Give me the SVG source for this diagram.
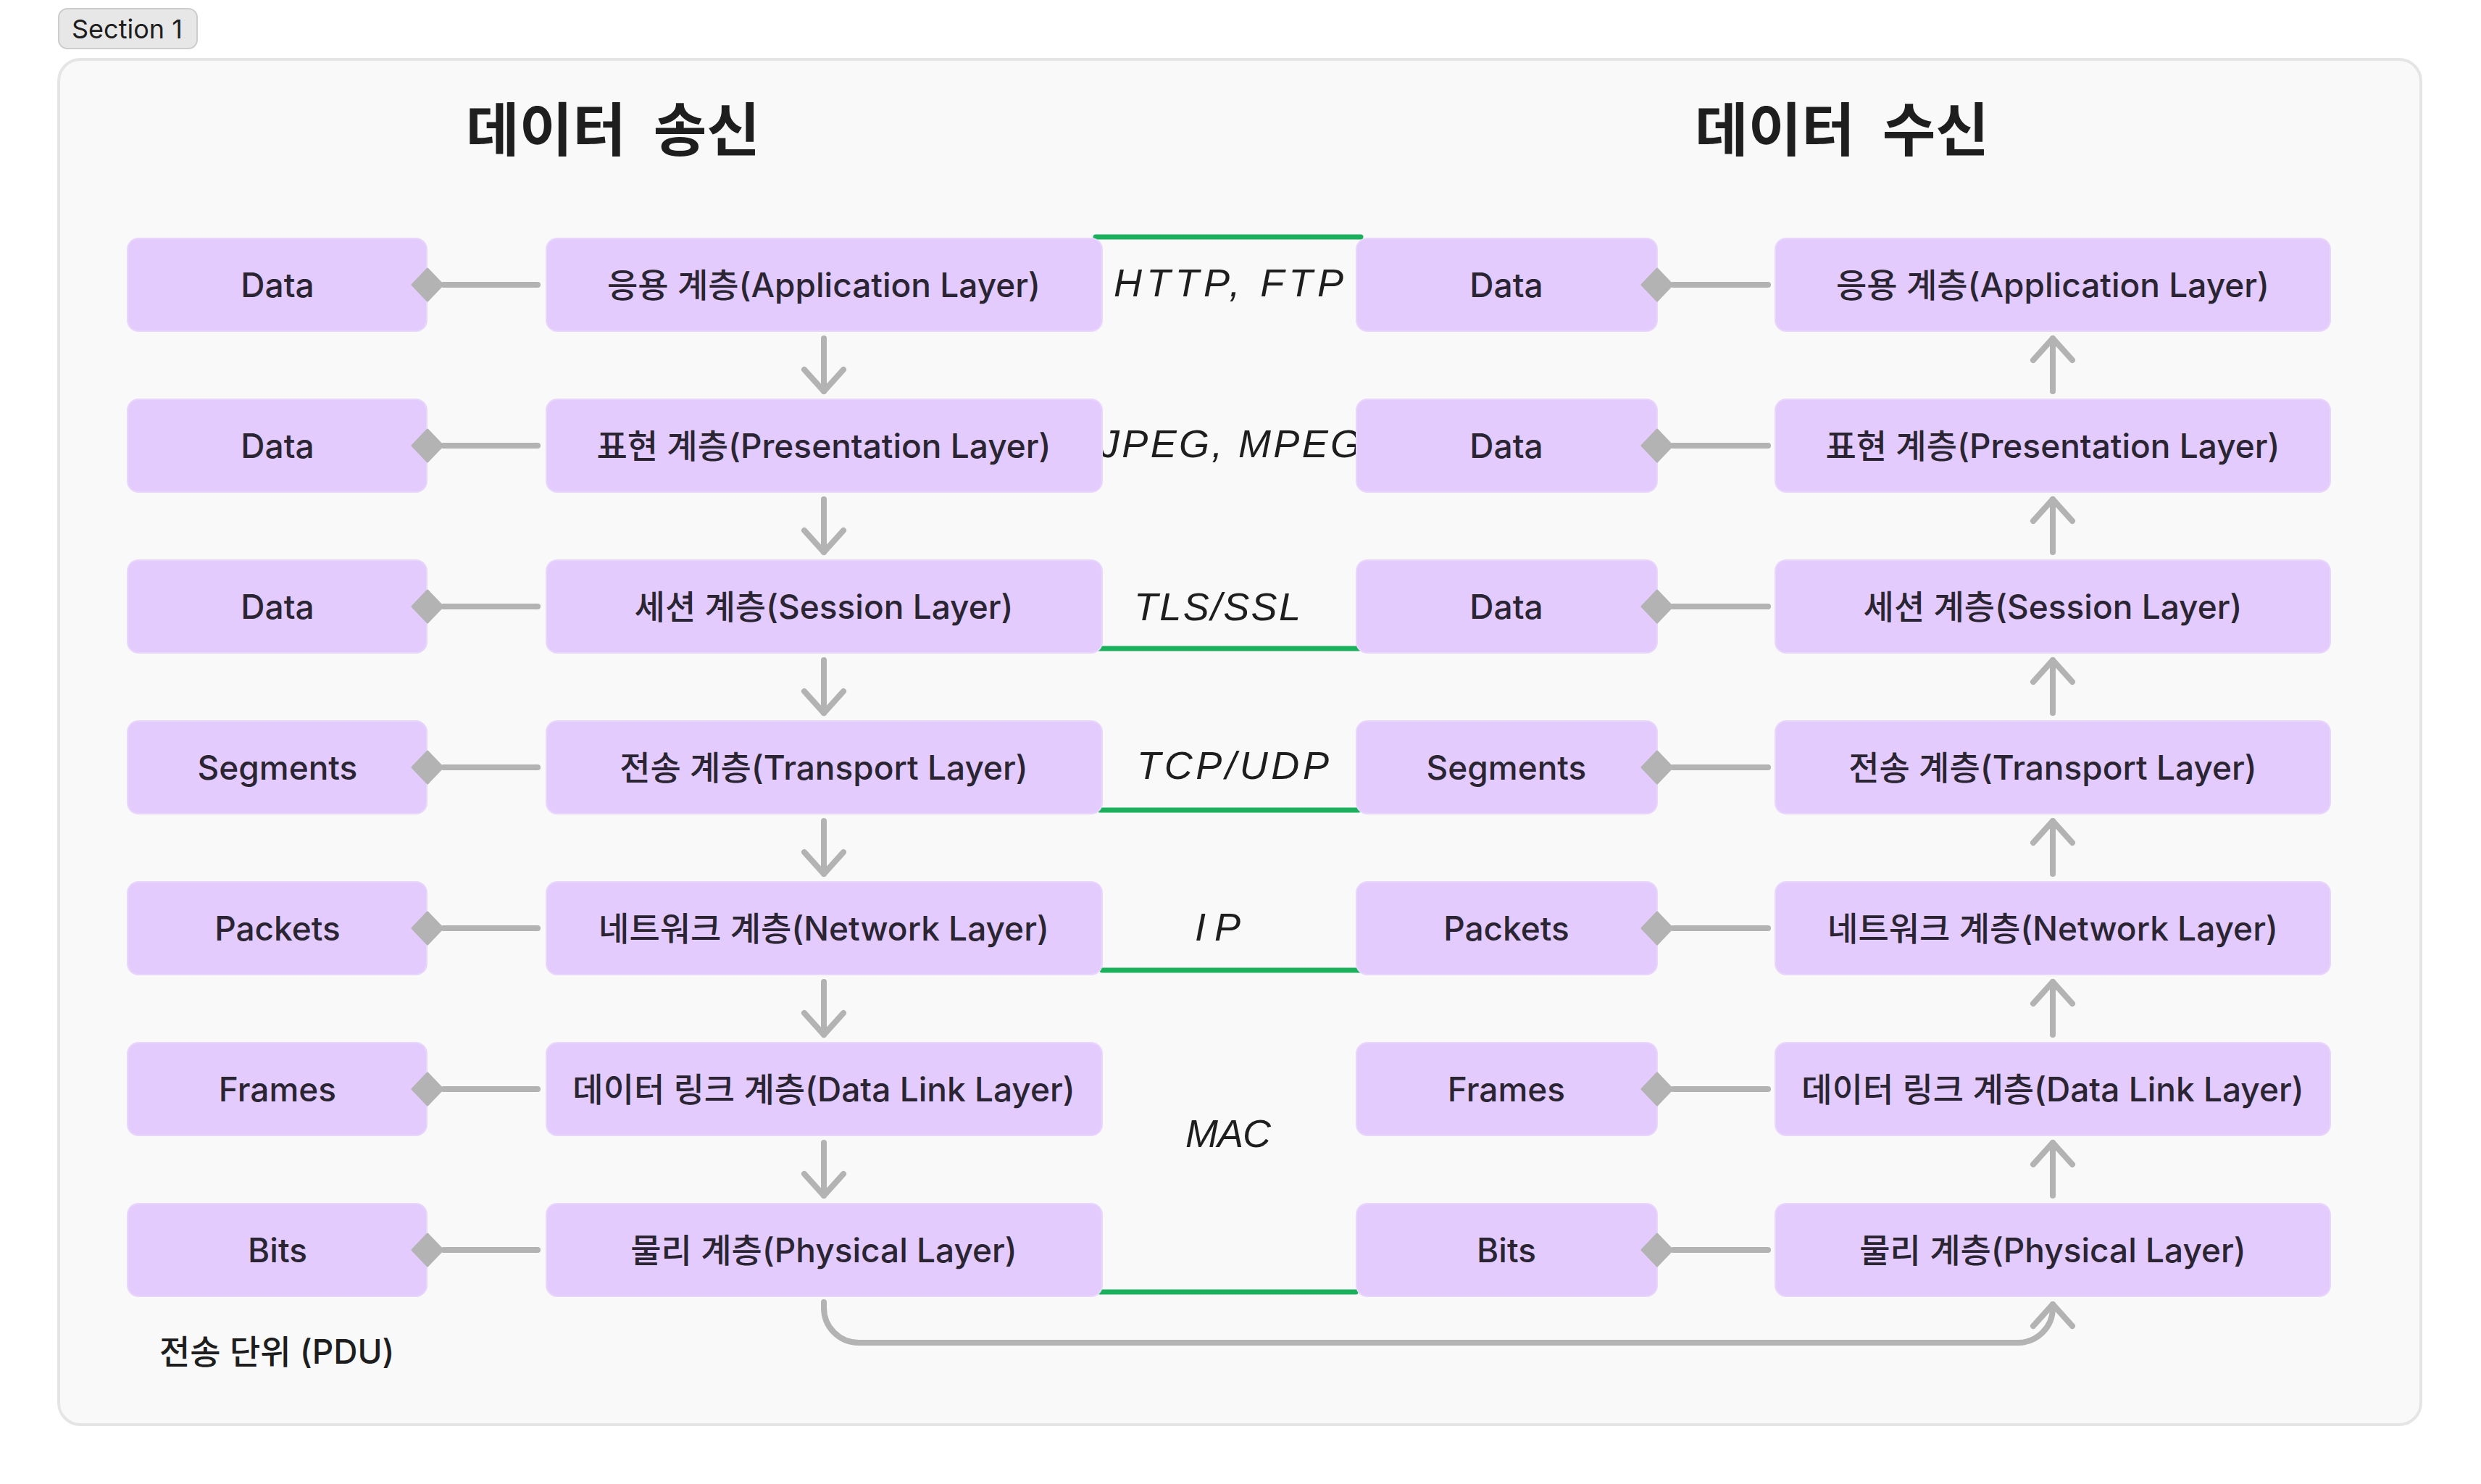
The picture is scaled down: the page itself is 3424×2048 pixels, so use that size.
<svg xmlns="http://www.w3.org/2000/svg" width="3424" height="2048" viewBox="0 0 3424 2048">
<style>
.bg{fill:#FFFFFF}
.frame{fill:#F9F9F9;stroke:#E5E5E5;stroke-width:4}
.pill{fill:#E7E7E7;stroke:#CDCDCD;stroke-width:2}
.pilltxt{font-family:Inter,"Noto Sans",sans-serif;font-size:36px;fill:#1E1E1E}
.title{font-family:Inter,"Noto Sans CJK KR",sans-serif;font-weight:700;font-size:80px;fill:#1E1E1E;text-anchor:middle;white-space:pre}
.box{fill:#E3CCFD;stroke:#E8D6FB;stroke-width:2}
.lbl{font-family:Inter,"Noto Sans CJK KR",sans-serif;font-weight:500;font-size:46px;fill:#2B2533;text-anchor:middle}
.note{font-family:Inter,"Noto Sans CJK KR",sans-serif;font-weight:500;font-size:46px;fill:#1E1E1E}
.conn{stroke:#B3B3B3;stroke-width:8;fill:none;stroke-linecap:round;stroke-linejoin:round}
.dia{fill:#B3B3B3;stroke:#B3B3B3;stroke-width:3;stroke-linejoin:round}
.green{stroke:#1BB05C;stroke-width:7;stroke-linecap:round}
.hand{font-family:"Liberation Sans",sans-serif;font-style:italic;font-size:54px;fill:#1E1E1E}
</style>
<defs>
<marker id="arrow" markerUnits="userSpaceOnUse" viewBox="-40 -40 80 80" markerWidth="80" markerHeight="80" refX="0" refY="0" orient="auto">
<path d="M-30,-27 L0,0 L-30,27" fill="none" stroke="#B3B3B3" stroke-width="8" stroke-linecap="round" stroke-linejoin="round"/>
</marker>
</defs>
<rect class="bg" x="0" y="0" width="3424" height="2048"/>
<g id="section">
<rect class="frame" x="81" y="82" width="3260" height="1884" rx="30"/>
<rect class="pill" x="81" y="12" width="191" height="55" rx="12"/>
<text class="pilltxt" x="99" y="53">Section 1</text>
</g>
<g id="titles">
<text class="title" x="846" y="208" xml:space="preserve">데이터  송신</text>
<text class="title" x="2542" y="208" xml:space="preserve">데이터  수신</text>
</g>
<g id="protocol-labels">
<line class="green" x1="1512" y1="327" x2="1878" y2="327"/>
<line class="green" x1="1512" y1="895" x2="1876" y2="895"/>
<line class="green" x1="1518" y1="1118" x2="1875" y2="1118"/>
<line class="green" x1="1521" y1="1339" x2="1878" y2="1339"/>
<line class="green" x1="1518" y1="1783" x2="1871" y2="1783"/>
<text class="hand" x="1537" y="409" textLength="317" lengthAdjust="spacing">HTTP, FTP</text>
<text class="hand" x="1518" y="631" textLength="360" lengthAdjust="spacing">JPEG, MPEG</text>
<text class="hand" x="1565" y="856" textLength="230" lengthAdjust="spacing">TLS/SSL</text>
<text class="hand" x="1569" y="1075" textLength="265" lengthAdjust="spacing">TCP/UDP</text>
<text class="hand" x="1649" y="1298" textLength="63" lengthAdjust="spacing">IP</text>
<text class="hand" x="1636" y="1583" textLength="118" lengthAdjust="spacing">MAC</text>
</g>
<g id="send-pdu-data-1"><rect class="box" x="176" y="329" width="413" height="128" rx="15"/><text class="lbl" x="383" y="410">Data</text></g>
<g id="send-pdu-data-2"><rect class="box" x="176" y="551" width="413" height="128" rx="15"/><text class="lbl" x="383" y="632">Data</text></g>
<g id="send-pdu-data-3"><rect class="box" x="176" y="773" width="413" height="128" rx="15"/><text class="lbl" x="383" y="854">Data</text></g>
<g id="send-pdu-segments"><rect class="box" x="176" y="995" width="413" height="128" rx="15"/><text class="lbl" x="383" y="1076">Segments</text></g>
<g id="send-pdu-packets"><rect class="box" x="176" y="1217" width="413" height="128" rx="15"/><text class="lbl" x="383" y="1298">Packets</text></g>
<g id="send-pdu-frames"><rect class="box" x="176" y="1439" width="413" height="128" rx="15"/><text class="lbl" x="383" y="1520">Frames</text></g>
<g id="send-pdu-bits"><rect class="box" x="176" y="1661" width="413" height="128" rx="15"/><text class="lbl" x="383" y="1742">Bits</text></g>
<g id="send-application"><rect class="box" x="754" y="329" width="767" height="128" rx="15"/><text class="lbl" x="1137" y="410">응용 계층(Application Layer)</text></g>
<g id="send-presentation"><rect class="box" x="754" y="551" width="767" height="128" rx="15"/><text class="lbl" x="1137" y="632">표현 계층(Presentation Layer)</text></g>
<g id="send-session"><rect class="box" x="754" y="773" width="767" height="128" rx="15"/><text class="lbl" x="1137" y="854">세션 계층(Session Layer)</text></g>
<g id="send-transport"><rect class="box" x="754" y="995" width="767" height="128" rx="15"/><text class="lbl" x="1137" y="1076">전송 계층(Transport Layer)</text></g>
<g id="send-network"><rect class="box" x="754" y="1217" width="767" height="128" rx="15"/><text class="lbl" x="1137" y="1298">네트워크 계층(Network Layer)</text></g>
<g id="send-datalink"><rect class="box" x="754" y="1439" width="767" height="128" rx="15"/><text class="lbl" x="1137" y="1520">데이터 링크 계층(Data Link Layer)</text></g>
<g id="send-physical"><rect class="box" x="754" y="1661" width="767" height="128" rx="15"/><text class="lbl" x="1137" y="1742">물리 계층(Physical Layer)</text></g>
<g id="recv-pdu-data-1"><rect class="box" x="1872" y="329" width="415" height="128" rx="15"/><text class="lbl" x="2079" y="410">Data</text></g>
<g id="recv-pdu-data-2"><rect class="box" x="1872" y="551" width="415" height="128" rx="15"/><text class="lbl" x="2079" y="632">Data</text></g>
<g id="recv-pdu-data-3"><rect class="box" x="1872" y="773" width="415" height="128" rx="15"/><text class="lbl" x="2079" y="854">Data</text></g>
<g id="recv-pdu-segments"><rect class="box" x="1872" y="995" width="415" height="128" rx="15"/><text class="lbl" x="2079" y="1076">Segments</text></g>
<g id="recv-pdu-packets"><rect class="box" x="1872" y="1217" width="415" height="128" rx="15"/><text class="lbl" x="2079" y="1298">Packets</text></g>
<g id="recv-pdu-frames"><rect class="box" x="1872" y="1439" width="415" height="128" rx="15"/><text class="lbl" x="2079" y="1520">Frames</text></g>
<g id="recv-pdu-bits"><rect class="box" x="1872" y="1661" width="415" height="128" rx="15"/><text class="lbl" x="2079" y="1742">Bits</text></g>
<g id="recv-application"><rect class="box" x="2450" y="329" width="766" height="128" rx="15"/><text class="lbl" x="2833" y="410">응용 계층(Application Layer)</text></g>
<g id="recv-presentation"><rect class="box" x="2450" y="551" width="766" height="128" rx="15"/><text class="lbl" x="2833" y="632">표현 계층(Presentation Layer)</text></g>
<g id="recv-session"><rect class="box" x="2450" y="773" width="766" height="128" rx="15"/><text class="lbl" x="2833" y="854">세션 계층(Session Layer)</text></g>
<g id="recv-transport"><rect class="box" x="2450" y="995" width="766" height="128" rx="15"/><text class="lbl" x="2833" y="1076">전송 계층(Transport Layer)</text></g>
<g id="recv-network"><rect class="box" x="2450" y="1217" width="766" height="128" rx="15"/><text class="lbl" x="2833" y="1298">네트워크 계층(Network Layer)</text></g>
<g id="recv-datalink"><rect class="box" x="2450" y="1439" width="766" height="128" rx="15"/><text class="lbl" x="2833" y="1520">데이터 링크 계층(Data Link Layer)</text></g>
<g id="recv-physical"><rect class="box" x="2450" y="1661" width="766" height="128" rx="15"/><text class="lbl" x="2833" y="1742">물리 계층(Physical Layer)</text></g>
<g id="pdu-note"><text class="note" x="220" y="1882">전송 단위 (PDU)</text></g>
<g id="connectors">
<line class="conn" x1="612" y1="393" x2="742" y2="393"/>
<line class="conn" x1="612" y1="615" x2="742" y2="615"/>
<line class="conn" x1="612" y1="837" x2="742" y2="837"/>
<line class="conn" x1="612" y1="1059" x2="742" y2="1059"/>
<line class="conn" x1="612" y1="1281" x2="742" y2="1281"/>
<line class="conn" x1="612" y1="1503" x2="742" y2="1503"/>
<line class="conn" x1="612" y1="1725" x2="742" y2="1725"/>
<polygon class="dia" points="569,393 590,371 611,393 590,415"/>
<polygon class="dia" points="569,615 590,593 611,615 590,637"/>
<polygon class="dia" points="569,837 590,815 611,837 590,859"/>
<polygon class="dia" points="569,1059 590,1037 611,1059 590,1081"/>
<polygon class="dia" points="569,1281 590,1259 611,1281 590,1303"/>
<polygon class="dia" points="569,1503 590,1481 611,1503 590,1525"/>
<polygon class="dia" points="569,1725 590,1703 611,1725 590,1747"/>
<line class="conn" x1="2309" y1="393" x2="2440" y2="393"/>
<line class="conn" x1="2309" y1="615" x2="2440" y2="615"/>
<line class="conn" x1="2309" y1="837" x2="2440" y2="837"/>
<line class="conn" x1="2309" y1="1059" x2="2440" y2="1059"/>
<line class="conn" x1="2309" y1="1281" x2="2440" y2="1281"/>
<line class="conn" x1="2309" y1="1503" x2="2440" y2="1503"/>
<line class="conn" x1="2309" y1="1725" x2="2440" y2="1725"/>
<polygon class="dia" points="2266,393 2287,371 2308,393 2287,415"/>
<polygon class="dia" points="2266,615 2287,593 2308,615 2287,637"/>
<polygon class="dia" points="2266,837 2287,815 2308,837 2287,859"/>
<polygon class="dia" points="2266,1059 2287,1037 2308,1059 2287,1081"/>
<polygon class="dia" points="2266,1281 2287,1259 2308,1281 2287,1303"/>
<polygon class="dia" points="2266,1503 2287,1481 2308,1503 2287,1525"/>
<polygon class="dia" points="2266,1725 2287,1703 2308,1725 2287,1747"/>
<path class="conn" marker-end="url(#arrow)" d="M1137,467 V540"/>
<path class="conn" marker-end="url(#arrow)" d="M1137,689 V762"/>
<path class="conn" marker-end="url(#arrow)" d="M1137,911 V984"/>
<path class="conn" marker-end="url(#arrow)" d="M1137,1133 V1206"/>
<path class="conn" marker-end="url(#arrow)" d="M1137,1355 V1428"/>
<path class="conn" marker-end="url(#arrow)" d="M1137,1577 V1650"/>
<path class="conn" marker-end="url(#arrow)" d="M2833,540 V467"/>
<path class="conn" marker-end="url(#arrow)" d="M2833,762 V689"/>
<path class="conn" marker-end="url(#arrow)" d="M2833,984 V911"/>
<path class="conn" marker-end="url(#arrow)" d="M2833,1206 V1133"/>
<path class="conn" marker-end="url(#arrow)" d="M2833,1428 V1355"/>
<path class="conn" marker-end="url(#arrow)" d="M2833,1650 V1577"/>
<path class="conn" marker-end="url(#arrow)" d="M1137,1797 V1805 A48,48 0 0 0 1185,1853 H2785 A48,48 0 0 0 2833,1805 V1800"/>
</g>
</svg>
